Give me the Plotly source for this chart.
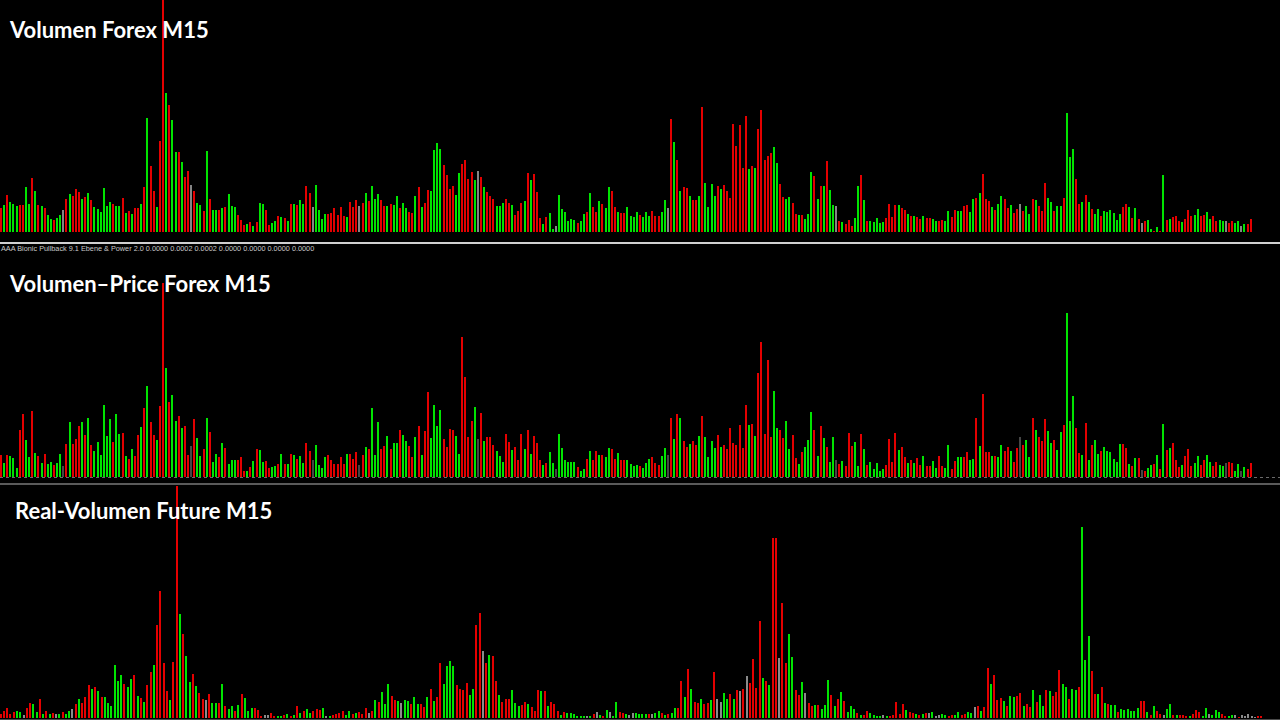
import plotly.graph_objects as go

# ---------------- DATA ----------------
# Panel 1: Volumen Forex M15 (tick volume per bar), direction r=down, g=up, n=neutral
vol_forex = [
    24, 27, 37, 30, 28, 26, 27, 27, 45, 28,
    54, 41, 27, 26, 24, 17, 13, 12, 14, 17,
    22, 33, 38, 36, 43, 40, 33, 35, 39, 32,
    25, 23, 20, 44, 26, 30, 28, 26, 26, 34,
    19, 21, 18, 24, 24, 28, 45, 114, 66, 41,
    25, 91, 240, 139, 127, 112, 80, 80, 70, 55,
    61, 47, 41, 29, 27, 21, 81, 33, 22, 22,
    22, 24, 25, 38, 26, 25, 17, 12, 7, 8,
    10, 6, 10, 29, 28, 22, 7, 9, 11, 16,
    15, 14, 11, 28, 28, 27, 32, 28, 46, 39,
    25, 47, 22, 13, 18, 18, 19, 24, 17, 25,
    16, 15, 30, 25, 32, 26, 29, 39, 31, 46,
    33, 38, 32, 26, 26, 28, 27, 36, 24, 29,
    24, 20, 19, 36, 45, 25, 29, 42, 41, 82,
    89, 83, 67, 57, 43, 46, 37, 59, 68, 72,
    53, 60, 52, 61, 55, 45, 40, 36, 33, 26,
    26, 29, 33, 29, 27, 17, 21, 29, 31, 59,
    52, 58, 40, 14, 8, 15, 19, 3, 6, 37,
    23, 20, 11, 13, 12, 9, 11, 18, 20, 39,
    25, 20, 31, 28, 24, 45, 41, 25, 20, 19,
    19, 25, 16, 15, 20, 17, 15, 20, 16, 21,
    16, 16, 20, 32, 24, 113, 90, 72, 41, 45,
    44, 36, 32, 32, 36, 125, 49, 25, 48, 36,
    46, 43, 47, 41, 34, 108, 86, 107, 64, 116,
    63, 66, 64, 103, 122, 72, 76, 79, 85, 69,
    48, 35, 33, 35, 29, 18, 17, 17, 13, 18,
    60, 56, 33, 46, 46, 71, 42, 27, 26, 11,
    10, 8, 12, 6, 14, 46, 57, 32, 11, 11,
    10, 14, 9, 10, 14, 28, 15, 27, 27, 24,
    22, 18, 16, 16, 15, 13, 16, 14, 14, 13,
    11, 11, 12, 11, 21, 15, 22, 21, 21, 26,
    27, 20, 33, 34, 39, 58, 33, 31, 25, 22,
    28, 36, 33, 24, 27, 19, 23, 28, 21, 26,
    18, 33, 32, 26, 21, 49, 34, 30, 21, 26,
    26, 34, 119, 75, 83, 53, 28, 30, 37, 30,
    23, 18, 23, 16, 21, 20, 22, 19, 12, 18,
    25, 28, 25, 14, 24, 13, 9, 11, 12, 3,
    1, 5, 1, 57, 12, 13, 15, 16, 11, 10,
    13, 22, 16, 17, 23, 16, 17, 20, 13, 16,
    11, 12, 11, 11, 9, 11, 9, 11, 6, 8,
    8, 13,
]
dir_forex = (
    "rgrgggrrgg" "rgrgrggrgg" "nrgrrrgrgr" "ggggggrggr" "grgrrgrgrr"
    "grrgrggrgr" "rnrggrgrgg" "rgrgggrrrg" "rgrggrrggr" "grgrgrggrr"
    "nggggrrrrr" "rgrrrnrgrg" "ggrrgrggrg" "grrgrgrrgg" "ggrrrrggrr"
    "rrgnrgrrrg" "ggrrgrrrgr" "grrrgrggng" "gggggrggrg" "rrgrggrrgr"
    "rggggrgggr" "rrggnrgrgr" "rgrrgrgggg" "rgrrrrrrrr" "grgrrrrrgg"
    "rrggrrgrgg" "grgrgrggnr" "grrrggrgrg" "ggggrrrrgr" "rgrgrrgrrg"
    "grrggrrggr" "rggrgrrrgr" "ggrrgrrnrg" "grgrrrggrg" "grgggrrgrg"
    "rggrgggggg" "rrgrgrnrgg" "rgrgrgrrrg" "rrrggrrggr" "rggnrrggng"
    "rr"
)

# Panel 2: Volumen-Price Forex M15
vol_price = [
    22, 14, 22, 21, 19, 9, 47, 63, 37, 20,
    66, 24, 21, 14, 23, 13, 15, 12, 14, 23,
    11, 33, 55, 33, 38, 51, 55, 42, 59, 32,
    26, 35, 22, 72, 41, 58, 35, 63, 43, 44,
    21, 18, 28, 21, 42, 50, 69, 91, 55, 42,
    37, 71, 194, 109, 75, 82, 56, 61, 49, 51,
    22, 31, 58, 39, 21, 28, 59, 45, 15, 23,
    20, 34, 29, 13, 17, 17, 17, 20, 6, 6,
    10, 16, 28, 27, 15, 16, 9, 10, 11, 13,
    23, 13, 13, 23, 22, 18, 21, 14, 34, 26,
    17, 32, 12, 9, 20, 22, 17, 13, 13, 20,
    13, 23, 23, 18, 25, 12, 22, 30, 28, 69,
    22, 55, 28, 31, 41, 28, 34, 34, 47, 42,
    36, 31, 20, 40, 51, 22, 46, 85, 39, 72,
    51, 67, 38, 30, 48, 47, 41, 23, 140, 100,
    40, 56, 70, 38, 64, 36, 40, 40, 32, 26,
    21, 15, 43, 35, 27, 30, 17, 43, 28, 47,
    23, 41, 34, 17, 12, 14, 25, 14, 8, 43,
    29, 17, 15, 15, 15, 10, 6, 8, 18, 26,
    17, 26, 22, 22, 20, 29, 28, 18, 24, 17,
    17, 17, 13, 11, 12, 11, 9, 14, 18, 20,
    14, 12, 21, 29, 22, 59, 38, 63, 59, 36,
    30, 33, 36, 32, 41, 61, 40, 20, 36, 29,
    42, 30, 32, 28, 49, 34, 32, 52, 29, 72,
    52, 53, 41, 104, 135, 43, 117, 40, 86, 49,
    47, 39, 56, 28, 42, 19, 13, 25, 30, 37,
    65, 47, 21, 51, 39, 30, 15, 40, 17, 13,
    16, 11, 44, 31, 35, 11, 43, 28, 12, 15,
    8, 14, 6, 8, 12, 38, 15, 44, 27, 30,
    20, 14, 17, 14, 19, 12, 21, 11, 11, 16,
    9, 21, 11, 9, 32, 8, 16, 20, 20, 20,
    25, 17, 18, 59, 31, 83, 25, 25, 21, 21,
    20, 32, 26, 30, 26, 15, 29, 40, 32, 37,
    20, 59, 47, 40, 36, 58, 46, 34, 37, 27,
    45, 52, 164, 56, 81, 49, 24, 22, 54, 17,
    32, 37, 23, 26, 30, 26, 25, 18, 15, 33,
    33, 29, 13, 11, 19, 19, 7, 6, 9, 12,
    13, 22, 8, 53, 27, 29, 34, 17, 10, 12,
    21, 28, 11, 14, 21, 12, 17, 22, 15, 11,
    15, 12, 11, 14, 15, 14, 6, 13, 6, 10,
    8, 14,
]
dir_price = (
    "rgrgggrrgg" "rgrgrggrgg" "nrgrrrgrgr" "ggggggrggr" "grgrrgrgrr"
    "grrgrggrgr" "rnrggrgrgg" "rgrgggrrrg" "rgrggrrggr" "grgrgrggrr"
    "nggggrrrrr" "rgrrrnrgrg" "ggrrgrggrg" "grrgrgrrgg" "ggrrrrggrr"
    "rrgnrgrrrg" "ggrrgrrrgr" "grrrgrggng" "gggggrggrg" "rrgrggrrgr"
    "rggggrgggr" "rrggnrgrgr" "rgrrgrgggg" "rgrrrrrrrr" "grgrrrrrgg"
    "rrggrrgrgg" "grgrgrggnr" "grrrggrgrg" "ggggrrrrgr" "rgrgrrgrrg"
    "grrggrrggr" "rggrgrrrgr" "ggrrgrrnrg" "grgrrrggrg" "grgggrrgrg"
    "rggrgggggg" "rrgrgrnrgg" "rgrgrgrrrg" "rrrggrrggr" "rggnrrggng"
    "rr"
)

# Panel 3: Real-Volumen Future M15
vol_future = [
    4, 7, 10, 4, 6, 7, 6, 3, 10, 15,
    14, 6, 19, 4, 7, 4, 5, 4, 4, 6,
    4, 7, 9, 14, 19, 15, 21, 33, 29, 31,
    27, 21, 21, 15, 12, 53, 37, 43, 34, 31,
    39, 43, 22, 20, 16, 33, 46, 53, 93, 127,
    55, 27, 18, 56, 235, 104, 84, 62, 36, 44,
    32, 25, 19, 18, 24, 15, 15, 15, 34, 12,
    9, 12, 7, 13, 24, 20, 7, 10, 10, 8,
    2, 3, 3, 5, 2, 2, 2, 3, 4, 2,
    3, 12, 5, 7, 9, 5, 7, 9, 8,
    10, 2, 2, 3, 4, 5, 7, 3, 7, 4,
    5, 6, 4, 10, 5, 7, 18, 16, 26, 14,
    34, 22, 18, 17, 15, 18, 17, 14, 21, 14,
    14, 11, 21, 29, 17, 21, 55, 34, 52, 57,
    52, 33, 29, 28, 35, 23, 29, 93, 105, 67,
    55, 63, 62, 37, 23, 16, 19, 19, 28, 15,
    12, 13, 16, 14, 11, 7, 28, 27, 27, 12,
    16, 14, 7, 3, 6, 5, 5, 4, 2, 2,
    2, 2, 2, 4, 6, 3, 2, 8, 6, 2,
    16, 6, 5, 4, 3, 5, 5, 4,
    4, 4, 4, 4, 5, 7, 5, 3, 4, 5,
    10, 10, 37, 21, 49, 29, 16, 15, 19, 14,
    15, 18, 46, 19, 16, 25, 19, 24, 19, 28,
    27, 29, 42, 35, 59, 30, 97, 40, 37, 33,
    180, 180, 60, 115, 55, 84, 61, 28, 23, 36,
    25, 15, 12, 13, 13, 9, 13, 38, 23, 12,
    19, 26, 17, 6, 12, 9, 5, 3, 3, 7,
    5, 3, 2, 2, 3, 2, 2, 3, 16, 4,
    14, 8, 6, 5, 4, 3, 4, 5, 5, 6,
    2, 3, 4, 3, 2, 3, 3, 6,
    3, 4, 6, 5, 11, 12, 7, 11, 50, 34,
    43, 18, 20, 17, 12, 22, 21, 22, 25, 12,
    14, 11, 28, 16, 23, 12, 28, 27, 22, 26,
    48, 34, 31, 19, 29, 28, 31, 191, 58, 82,
    47, 24, 24, 31, 15, 14, 13, 13, 6, 9,
    8, 9, 7, 7, 10, 17, 17, 6, 3, 12,
    7, 4, 3, 9, 14, 3, 3, 3, 3, 2,
    2, 4, 8, 6, 2, 10, 4, 3, 8, 6,
    4, 2, 2, 3, 3, 1, 3, 2, 4, 2,
    1, 2, 2,
]
dir_future = (
    "rrrrrggnrr" "ggrgrgrngr" "ggnrgrrrgr" "grggggggrg" "grgrgrrgrr"
    "rrgrrgrggr" "grrnrggrgr" "ggrgrgggrr" "rnnrrggrgr" "grgrggrrr"
    "gngrrrrggr" "grrrnrgrgg" "grrgnggrgg" "rrgrgrrggg" "grrrrggrrn"
    "rgrrgrrrgg" "grrgrrrgrg" "rrrgrggggg" "gngrngrgng" "grrgnngg"
    "ggrnggrgrg" "grrgrgrrgr" "rgrnnggrgr" "nrnrrrrgrg" "rrnrrggrrg"
    "nrrgrgggrg" "rgrgggrgrr" "ggggngrrrr" "rgrrgrgrng" "nnggrrgg"
    "rrggnrgrrg" "rrrgrggrrg" "rrgrggrgrr" "rggrggrggg" "rrgrgrggrg"
    "gggggrrgrg" "rrnggrgrrr" "grrrggnggg" "rrggnrnnnn" "nrr"
)

# ---------------- FIGURE ----------------
W, H = 1280, 720
GREEN, RED = "#00e400", "#e40000"
GRAY = {"p1": "#858585", "p2": "#464646", "p3": "#8a8a8a"}


def py(p):
    return 1 - p / H


def colors(dirs, gray):
    m = {"r": RED, "g": GREEN, "n": gray}
    return [m[c] for c in dirs]


def xrange_for(n, first_px, last_px):
    s = (last_px - first_px) / (n - 1)
    x0 = -first_px / s
    return [x0, x0 + W / s], s


panels = [
    (vol_forex, dir_forex, GRAY["p1"], (0, 232), 232, 1.0, 1250.7),
    (vol_price, dir_price, GRAY["p2"], (246, 477), 231, 1.0, 1250.7),
    (vol_future, dir_future, GRAY["p3"], (486, 718), 232, 0.7, 1261.3),
]

fig = go.Figure()
layout = dict(
    width=W, height=H, margin=dict(l=0, r=0, t=0, b=0),
    paper_bgcolor="black", plot_bgcolor="black", showlegend=False,
    bargap=0,
)
for i, (vals, dirs, gray, (top, bot), yr, fx, lx) in enumerate(panels, start=1):
    n = len(vals)
    dirs = (dirs + "n" * n)[:n]
    xr, s = xrange_for(n, fx, lx)
    sfx = "" if i == 1 else str(i)
    fig.add_trace(go.Bar(
        x=list(range(n)), y=vals, width=2.0 / s,
        marker=dict(color=colors(dirs, gray), line=dict(width=0)),
        xaxis="x" + sfx, yaxis="y" + sfx, hoverinfo="skip",
    ))
    layout["xaxis" + sfx] = dict(domain=[0, 1], range=xr, visible=False,
                                 anchor="y" + sfx, fixedrange=True)
    layout["yaxis" + sfx] = dict(domain=[py(bot), py(top)], range=[0, yr],
                                 visible=False, anchor="x" + sfx, fixedrange=True)

fig.update_layout(**layout)

# separators and baselines
fig.add_shape(type="line", xref="paper", yref="paper", x0=0, x1=1,
              y0=py(243), y1=py(243), line=dict(color="#d0d0d0", width=2))
fig.add_shape(type="line", xref="paper", yref="paper", x0=0, x1=1,
              y0=py(477.5), y1=py(477.5), line=dict(color="#6a6a6a", width=1, dash="dot"))
fig.add_shape(type="line", xref="paper", yref="paper", x0=0, x1=1,
              y0=py(484), y1=py(484), line=dict(color="#5a5a5a", width=2))
fig.add_shape(type="line", xref="paper", yref="paper", x0=0, x1=1,
              y0=py(719.5), y1=py(719.5), line=dict(color="#4a4a4a", width=1))

titles = [
    ("Volumen Forex M15", 7, 30),
    ("Volumen–Price Forex M15", 7, 284),
    ("Real-Volumen Future M15", 13, 510),
]
for txt, xp, yp in titles:
    fig.add_annotation(text=txt, xref="paper", yref="paper", x=xp / W, y=py(yp),
                       xanchor="left", yanchor="middle", showarrow=False,
                       font=dict(family="Lato", size=22, color="white", weight="bold"))

fig.add_annotation(
    text="AAA Bionic Pullback 9.1 Ebene & Power 2.0 0.0000 0.0002 0.0002 0.0000 0.0000 0.0000 0.0000",
    xref="paper", yref="paper", x=-1 / W, y=py(248), xanchor="left", yanchor="middle",
    showarrow=False, font=dict(family="Liberation Sans", size=7.3, color="#c8c8c8"))

fig.write_html("out.html", config={"displayModeBar": False, "staticPlot": True},
               post_script="document.body.style.margin='0';document.body.style.background='black';")
